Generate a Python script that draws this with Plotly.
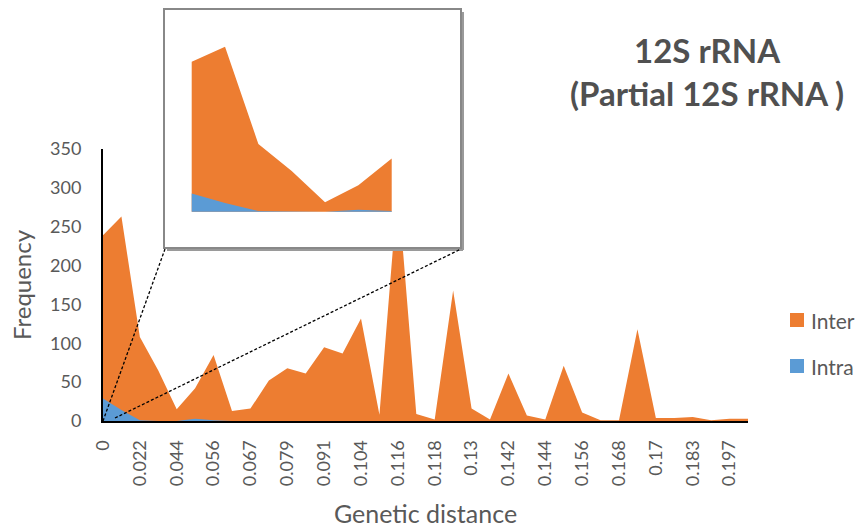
import plotly.graph_objects as go

# Frequency of pairwise genetic distances, 12S rRNA (partial)
tick_labels = ["0", "0.022", "0.044", "0.056", "0.067", "0.079", "0.091", "0.104",
               "0.116", "0.118", "0.13", "0.142", "0.144", "0.156", "0.168", "0.17",
               "0.183", "0.197"]
inter = [239, 263, 108, 65, 15, 42, 85, 13, 16, 52, 68, 61, 95, 87, 132, 8, 300, 9,
         2, 168, 16, 2, 61, 7, 2, 71, 11, 1, 1, 118, 4, 4, 5, 1, 3, 3]
intra = [29, 14, 1, 0, 0, 3, 1, 0, 0, 0, 0, 0, 0, 0, 0, 0, 0, 0,
         0, 0, 0, 0, 0, 0, 0, 0, 0, 0, 0, 0, 0, 0, 0, 0, 0, 0]
inset_points = 7  # leading bins repeated in the magnified inset

series_names = ["Inter", "Intra"]
colors = {"Inter": "#ED7D31", "Intra": "#5B9BD5"}
FONT = "Lato"
GREY = "#595959"

W, H = 859, 529
M_L, M_R, M_T, M_B = 103, 111, 8, 108
PW, PH = W - M_L - M_R, H - M_T - M_B


def px_x(px):
    return (px - M_L) / PW


def px_y(py):
    return (H - M_B - py) / PH


x_idx = list(range(len(inter)))
tick_idx = x_idx[::2][:len(tick_labels)]

fig = go.Figure()
for name, vals in (("Inter", inter), ("Intra", intra)):
    fig.add_trace(go.Scatter(
        x=x_idx, y=vals, name=name, mode="lines", line=dict(width=0, color=colors[name]),
        fill="tozeroy", fillcolor=colors[name], showlegend=False,
        xaxis="x", yaxis="y", hoverinfo="x+y+name"))

# magnified inset of the first bins
for name, vals in (("Inter", inter), ("Intra", intra)):
    fig.add_trace(go.Scatter(
        x=x_idx[:inset_points], y=vals[:inset_points], name=name, mode="lines",
        line=dict(width=0, color=colors[name]), fill="tozeroy",
        fillcolor=colors[name], showlegend=False, xaxis="x2", yaxis="y2"))

# inset frame (pixel box) and its inner data box
fx0, fy0, fx1, fy1 = 164, 9, 461, 248
ix0, ix1, iy_base = 191.7, 391.7, 211.7
px_per_unit_y = 0.627
px_per_cat = (ix1 - ix0) / (inset_points - 1)
inset_xrange = [-(ix0 - fx0) / px_per_cat, (inset_points - 1) + (fx1 - ix1) / px_per_cat]
inset_yrange = [-(fy1 - iy_base) / px_per_unit_y, (iy_base - fy0) / px_per_unit_y]

main_top = 149
fig.update_layout(
    width=W, height=H,
    margin=dict(l=M_L, r=M_R, t=M_T, b=M_B),
    paper_bgcolor="white", plot_bgcolor="white",
    font=dict(family=FONT, color=GREY),
    showlegend=False,
    xaxis=dict(domain=[0, 1], range=[0, len(inter) - 1], tickmode="array",
               tickvals=tick_idx, ticktext=tick_labels, tickangle=-90,
               tickfont=dict(size=18, color=GREY), ticks="", showgrid=False,
               zeroline=False, showline=True, linecolor="black", linewidth=2,
               ticklabelstandoff=10, automargin=False,
               title=dict(text="Genetic distance", font=dict(size=25, color=GREY),
                          standoff=20)),
    yaxis=dict(domain=[0, px_y(main_top)], range=[0, 350], dtick=50,
               tickfont=dict(size=18, color=GREY), ticks="", showgrid=False,
               zeroline=False, showline=True, linecolor="black", linewidth=2,
               ticklabelstandoff=16, automargin=False,
               title=dict(text="Frequency", font=dict(size=24, color=GREY),
                          standoff=12)),
    xaxis2=dict(domain=[px_x(fx0), px_x(fx1)], range=inset_xrange, visible=False,
                anchor="y2"),
    yaxis2=dict(domain=[px_y(fy1), px_y(fy0)], range=inset_yrange, visible=False,
                anchor="x2"),
)

shapes = [
    # inset frame with a soft shadow on the right and bottom
    dict(type="line", xref="paper", yref="paper", x0=px_x(fx1 + 2), x1=px_x(fx1 + 2),
         y0=px_y(fy0 + 3), y1=px_y(fy1 + 2), line=dict(color="#9a9a9a", width=2), layer="above"),
    dict(type="line", xref="paper", yref="paper", x0=px_x(fx0 + 3), x1=px_x(fx1 + 2),
         y0=px_y(fy1 + 2), y1=px_y(fy1 + 2), line=dict(color="#9a9a9a", width=2), layer="above"),
    dict(type="rect", xref="paper", yref="paper", x0=px_x(fx0), x1=px_x(fx1),
         y0=px_y(fy1), y1=px_y(fy0), line=dict(color="#888888", width=2), layer="above"),
    # dashed connectors from the magnified region to the inset
    dict(type="line", xref="paper", yref="paper", x0=px_x(103), y0=px_y(421),
         x1=px_x(fx0 + 1), y1=px_y(fy1 + 1), line=dict(color="black", width=1.3, dash="3px,2px"),
         layer="above"),
    dict(type="line", xref="paper", yref="paper", x0=px_x(115), y0=px_y(418),
         x1=px_x(fx1), y1=px_y(fy1 + 1), line=dict(color="black", width=1.3, dash="3px,2px"),
         layer="above"),
]

# legend swatches
legend_y = {"Inter": 320, "Intra": 366}
annotations = []
for name in series_names:
    cy = legend_y[name]
    shapes.append(dict(type="rect", xref="paper", yref="paper",
                       x0=px_x(790), x1=px_x(804), y0=px_y(cy + 7), y1=px_y(cy - 7),
                       fillcolor=colors[name], line=dict(width=0), layer="above"))
    annotations.append(dict(xref="paper", yref="paper", x=px_x(809), y=px_y(cy),
                            xanchor="left", yanchor="middle", text=name, showarrow=False,
                            font=dict(family=FONT, size=21, color=GREY)))

annotations.append(dict(xref="paper", yref="paper", x=px_x(707), y=px_y(72),
                        xanchor="center", yanchor="middle", showarrow=False,
                        text="<b>12S rRNA</b><br><b>(Partial 12S rRNA )</b>",
                        font=dict(family=FONT, size=33, color="#505050")))

fig.update_layout(shapes=shapes, annotations=annotations)
fig.write_html("out.html")
